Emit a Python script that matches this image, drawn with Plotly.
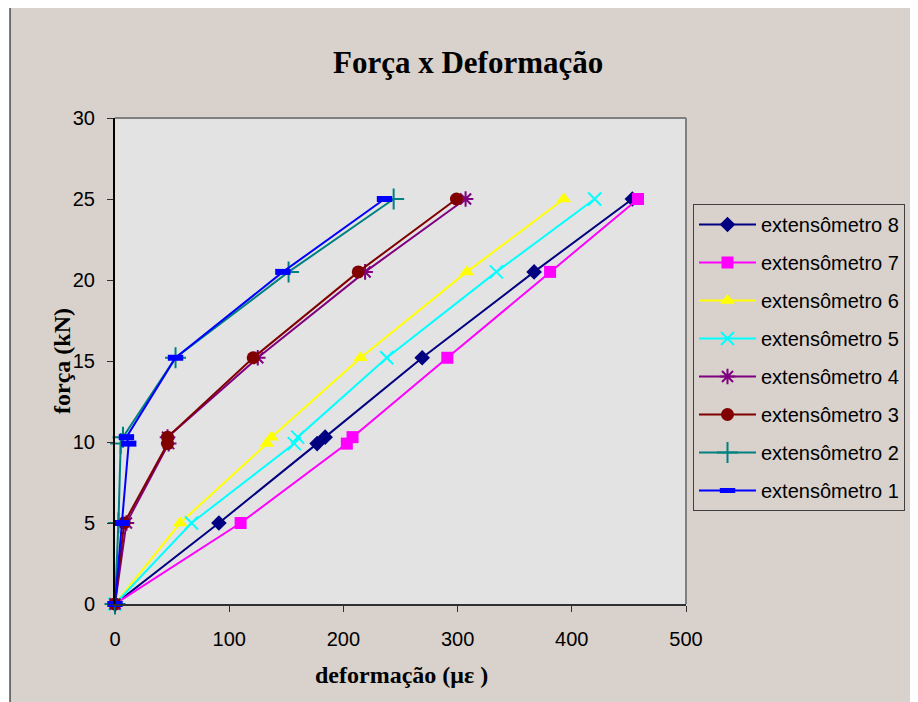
import plotly.graph_objects as go

# Data
forca = [0, 5, 9.9, 10.3, 15.2, 20.5, 25]

series_names = ["extensômetro 8", "extensômetro 7", "extensômetro 6", "extensômetro 5",
                "extensômetro 4", "extensômetro 3", "extensômetro 2", "extensômetro 1"]

ext8 = [0, 91, 177, 184, 269, 367, 453]
ext7 = [0, 110, 203, 208, 291, 381, 458]
ext6 = [0, 57, 133, 137, 215, 308, 393]
ext5 = [0, 67, 157, 160, 238, 334, 420]
ext4 = [0, 10, 47, 46, 125, 219, 307]
ext3 = [0, 8, 46, 46, 121, 213, 299]
ext2 = [0, 3, 5, 7, 53, 152, 244]
ext1 = [0, 6, 12, 10, 53, 147, 236]

x_ticks = [0, 100, 200, 300, 400, 500]
y_ticks = [0, 5, 10, 15, 20, 25, 30]

series_x = [ext8, ext7, ext6, ext5, ext4, ext3, ext2, ext1]
colors = ["#000080", "#FF00FF", "#FFFF00", "#00FFFF", "#800080", "#800000", "#008080", "#0000FF"]
markers = [
    dict(symbol="diamond", size=12),
    dict(symbol="square", size=12),
    dict(symbol="triangle-up", size=13),
    dict(symbol="x-thin-open", size=13, line=dict(width=2)),
    dict(symbol="asterisk-open", size=13, line=dict(width=2)),
    dict(symbol="circle", size=13),
    dict(symbol="cross-thin-open", size=15, line=dict(width=2)),
    dict(symbol="line-ew-open", size=11, line=dict(width=6)),
]

BEIGE = "#D9D1CB"
PLOTBG = "#E3E3E3"

fig = go.Figure()
for i, (name, xs, c, m) in enumerate(zip(series_names, series_x, colors, markers)):
    mk = dict(m)
    mk["color"] = c
    if "line" in mk:
        mk["line"] = dict(mk["line"], color=c)
    fig.add_trace(go.Scatter(
        x=xs, y=forca, mode="lines+markers", name=name, legendgroup=f"g{i}",
        line=dict(color=c, width=2), marker=mk, cliponaxis=False,
    ))

# page has an 8px body margin: figure origin sits at (8, 8) of the screenshot
OFF = 8
W, H = 918 - OFF, 702 - OFF
L, R, T, B = 115 - OFF, 918 - 686, 118 - OFF, 702 - 604
pw, ph = W - L - R, H - T - B

def px2x(px):
    return (px - OFF - L) / pw

def py2y(py):
    return (H - B - (py - OFF)) / ph

shapes = [
    dict(type="rect", xref="paper", yref="paper", x0=px2x(OFF), x1=px2x(10), y0=py2y(702), y1=py2y(OFF),
         fillcolor="white", line=dict(width=0), layer="below"),
    dict(type="rect", xref="paper", yref="paper", x0=px2x(OFF), x1=px2x(918), y0=py2y(6), y1=py2y(OFF),
         fillcolor="white", line=dict(width=0), layer="below"),
    dict(type="line", xref="paper", yref="paper", x0=px2x(10), x1=px2x(10), y0=py2y(702), y1=py2y(6),
         line=dict(color="black", width=1)),
    dict(type="line", xref="paper", yref="paper", x0=px2x(10), x1=px2x(918), y0=py2y(6), y1=py2y(6),
         line=dict(color="black", width=1)),
    dict(type="line", xref="paper", yref="paper", x0=0, x1=1, y0=1, y1=1,
         line=dict(color="#808080", width=2), layer="below"),
    dict(type="line", xref="paper", yref="paper", x0=1, x1=1, y0=0, y1=1,
         line=dict(color="#808080", width=2), layer="below"),
]

annotations = [
    dict(text="<b>Força x Deformação</b>", x=px2x(468), y=py2y(62), xref="paper", yref="paper",
         showarrow=False, xanchor="center", yanchor="middle",
         font=dict(family="Liberation Serif", size=31, color="black")),
    dict(text="<b>deformação (με )</b>", x=px2x(401), y=py2y(675), xref="paper", yref="paper",
         showarrow=False, xanchor="center", yanchor="middle",
         font=dict(family="Liberation Serif", size=24, color="black")),
    dict(text="<b>força (kN)</b>", x=px2x(62), y=py2y(361), xref="paper", yref="paper",
         showarrow=False, xanchor="center", yanchor="middle", textangle=-90,
         font=dict(family="Liberation Serif", size=24, color="black")),
]

fig.update_layout(
    width=W, height=H,
    margin=dict(l=L, r=R, t=T, b=B, autoexpand=False),
    paper_bgcolor=BEIGE, plot_bgcolor=PLOTBG,
    showlegend=True,
    legend=dict(x=px2x(693), y=py2y(204), xanchor="left", yanchor="top",
                bgcolor=BEIGE, bordercolor="#404040", borderwidth=1,
                font=dict(family="Liberation Sans", size=20, color="black"),
                traceorder="grouped", tracegroupgap=9, itemwidth=57),
    shapes=shapes, annotations=annotations,
    xaxis=dict(range=[0, 500], tickvals=x_ticks, ticktext=[str(v) for v in x_ticks],
               showgrid=False, zeroline=False, showline=True, linecolor="#303030", linewidth=2,
               ticks="outside", ticklen=6, tickcolor="#303030", tickwidth=1,
               tickfont=dict(family="Liberation Sans", size=20, color="black"),
               ticklabelstandoff=10),
    yaxis=dict(range=[0, 30], tickvals=y_ticks, ticktext=[str(v) for v in y_ticks],
               showgrid=False, zeroline=False, showline=True, linecolor="black", linewidth=2,
               ticks="outside", ticklen=6, tickcolor="#303030", tickwidth=1,
               tickfont=dict(family="Liberation Sans", size=20, color="black"),
               ticklabelstandoff=8),
)

fig.write_html("out.html")
